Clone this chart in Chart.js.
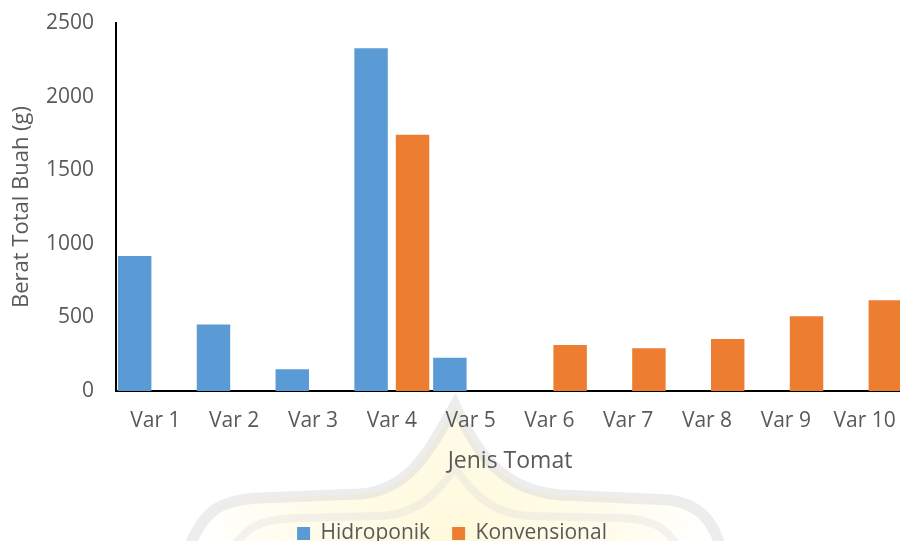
<!DOCTYPE html>
<html>
<head>
<meta charset="utf-8">
<script src="https://cdn.jsdelivr.net/npm/chart.js@4.4.1/dist/chart.umd.min.js"></script>
<style>
  html, body { margin: 0; padding: 0; width: 900px; height: 541px; overflow: hidden; background: #ffffff; }
  #wrap { position: relative; width: 904px; height: 554px; }
</style>
</head>
<body>
<div id="wrap"><canvas id="chart"></canvas></div>
<script>
// Total fruit weight per tomato variety, by growing method
const categories = ['Var 1', 'Var 2', 'Var 3', 'Var 4', 'Var 5', 'Var 6', 'Var 7', 'Var 8', 'Var 9', 'Var 10'];
const hidroponik = [917, 451, 147, 2328, 226, null, null, null, null, null];
const konvensional = [null, null, null, 1740, null, 312, 290, 353, 508, 617];
const yTicks = [0, 500, 1000, 1500, 2000, 2500];

const textColor = '#595959';
const fontFamily = '"Open Sans", "Noto Sans", sans-serif';

// Outline of the faint logo watermark painted behind the plot
function archPath(ctx, closed) {
  ctx.beginPath();
  ctx.moveTo(190, 545);
  ctx.bezierCurveTo(205, 510, 220, 500, 260, 498);
  ctx.lineTo(360, 494);
  ctx.bezierCurveTo(410, 490, 430, 450, 455, 405);
  ctx.bezierCurveTo(475, 450, 500, 490, 560, 495);
  ctx.lineTo(670, 500);
  ctx.bezierCurveTo(700, 505, 712, 520, 720, 545);
  if (closed) ctx.closePath();
}

const watermark = {
  id: 'watermark',
  beforeDraw(chart) {
    const ctx = chart.ctx;
    ctx.save();
    // pale yellow dome
    const g = ctx.createRadialGradient(455, 545, 10, 455, 545, 270);
    g.addColorStop(0, 'rgba(255,245,195,0.6)');
    g.addColorStop(0.6, 'rgba(255,248,210,0.4)');
    g.addColorStop(1, 'rgba(255,250,225,0)');
    archPath(ctx, true);
    ctx.fillStyle = g;
    ctx.fill();

    ctx.lineCap = 'round';
    // outer band
    ctx.strokeStyle = 'rgba(215,215,215,0.45)';
    ctx.lineWidth = 11;
    archPath(ctx, false);
    ctx.stroke();
    // inner band
    ctx.lineWidth = 8;
    ctx.strokeStyle = 'rgba(220,220,220,0.35)';
    ctx.beginPath();
    ctx.moveTo(235, 545);
    ctx.bezierCurveTo(248, 526, 262, 519, 300, 518);
    ctx.lineTo(380, 516);
    ctx.bezierCurveTo(420, 514, 440, 490, 455, 468);
    ctx.bezierCurveTo(470, 490, 490, 514, 530, 516);
    ctx.lineTo(620, 518);
    ctx.bezierCurveTo(655, 519, 668, 530, 676, 545);
    ctx.stroke();
    ctx.restore();
  }
};

new Chart(document.getElementById('chart'), {
  type: 'bar',
  data: {
    labels: categories,
    datasets: [
      {
        label: 'Hidroponik',
        data: hidroponik,
        backgroundColor: '#5B9BD5',
        borderWidth: 0
      },
      {
        label: 'Konvensional',
        data: konvensional,
        backgroundColor: '#ED7D31',
        borderWidth: 0
      }
    ]
  },
  options: {
    responsive: true,
    maintainAspectRatio: false,
    animation: false,
    devicePixelRatio: 1,
    categoryPercentage: 1.052,
    barPercentage: 0.807,
    layout: { padding: { top: 23, right: 0, bottom: 0, left: 0 } },
    plugins: {
      legend: {
        position: 'bottom',
        labels: {
          boxWidth: 13,
          boxHeight: 13,
          padding: 22,
          color: textColor,
          font: { family: fontFamily, size: 21 }
        }
      },
      tooltip: { enabled: false }
    },
    scales: {
      x: {
        // tick marks stay hidden; their length only spaces the labels
        grid: { display: false, drawTicks: true, tickLength: 17 },
        border: { display: true, color: '#000000', width: 2 },
        ticks: {
          color: textColor,
          padding: 0,
          maxRotation: 0,
          autoSkip: false,
          font: { family: fontFamily, size: 21 }
        },
        title: {
          display: true,
          text: 'Jenis Tomat',
          color: textColor,
          font: { family: fontFamily, size: 23 },
          padding: { top: 0, bottom: 26 }
        },
        afterFit(scale) { scale.height = 110; }
      },
      y: {
        min: 0,
        max: 2500,
        afterBuildTicks(scale) { scale.ticks = yTicks.map(v => ({ value: v })); },
        grid: { display: false, drawTicks: true, tickLength: 22 },
        border: { display: true, color: '#000000', width: 2 },
        ticks: {
          color: textColor,
          padding: 0,
          font: { family: fontFamily, size: 21 },
          callback: (v) => String(v)
        },
        title: {
          display: true,
          text: 'Berat Total Buah (g)',
          color: textColor,
          font: { family: fontFamily, size: 22 },
          padding: { top: 9, bottom: 0 }
        },
        afterFit(scale) { scale.width = 116; }
      }
    }
  },
  plugins: [watermark]
});
</script>
</body>
</html>
